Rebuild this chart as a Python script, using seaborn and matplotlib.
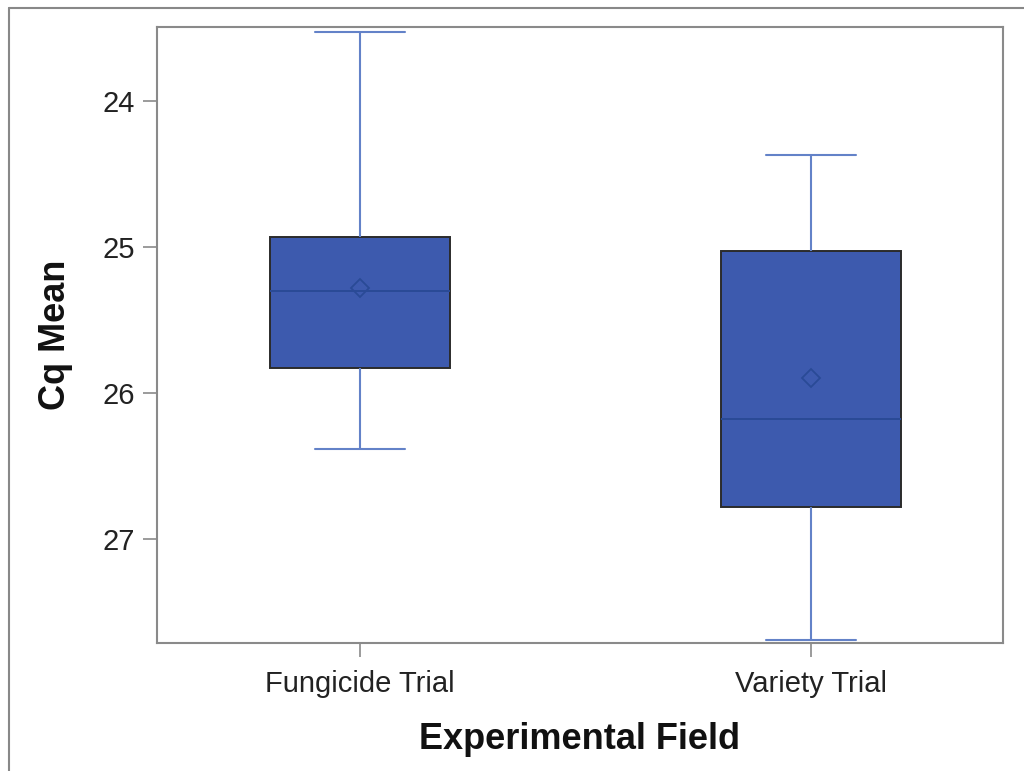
import matplotlib
matplotlib.use("Agg")
import matplotlib.pyplot as plt
from matplotlib.lines import Line2D
import seaborn as sns
import pandas as pd

# Five-number summaries (inverted y axis)
fields = ["Fungicide Trial", "Variety Trial"]
whisker_low = [23.53, 24.37]    # top whisker end (smallest value)
q1 = [24.93, 25.03]
median = [25.30, 26.18]
q3 = [25.83, 26.78]
whisker_high = [26.38, 27.69]   # bottom whisker end (largest value)
means = [25.28, 25.90]

yticks = [24, 25, 26, 27]

rows = []
for i, f in enumerate(fields):
    for v in (whisker_low[i], q1[i], median[i], q3[i], whisker_high[i]):
        rows.append({"Experimental Field": f, "Cq Mean": v})
df = pd.DataFrame(rows)

sns.set_theme(style="white")
plt.rcParams["font.family"] = ["Liberation Sans", "DejaVu Sans"]

fig = plt.figure(figsize=(10.24, 7.71), dpi=100)
ax = fig.add_axes([157/1024, 1-643/771, (1003-157)/1024, (643-27)/771])

box_color = "#3D5AAE"
whisk_color = "#6382C8"
sns.boxplot(data=df, x="Experimental Field", y="Cq Mean", order=fields,
            whis=(0, 100), width=0.40, color=box_color, saturation=1,
            showfliers=False, ax=ax,
            boxprops=dict(facecolor=box_color, edgecolor="#2b2b2b", linewidth=1.4),
            whiskerprops=dict(color=whisk_color, linewidth=1.5),
            capprops=dict(color=whisk_color, linewidth=1.5),
            medianprops=dict(color="#2A4A96", linewidth=1.4))

sns.pointplot(x=fields, y=means, order=fields, linestyle="none", marker="D",
              markersize=9, markerfacecolor="none", markeredgewidth=1.3,
              color="#2A4A96", errorbar=None, ax=ax)

ax.set_ylim(27.712, 23.493)
ax.set_xlim(-0.45, 1.426)
ax.set_yticks(yticks)
ax.set_yticklabels([str(t) for t in yticks])

for s in ax.spines.values():
    s.set_color("#8a8a8a")
    s.set_linewidth(1.5)

ax.tick_params(axis="both", which="major", length=10, width=1.2, color="#8a8a8a",
               labelsize=21, labelcolor="#222222", left=True, bottom=True)
ax.tick_params(axis="y", pad=6)
ax.tick_params(axis="x", pad=9.5)
ax.set_xlabel("Experimental Field", fontsize=26, fontweight="bold", color="#111111", labelpad=17)
ax.set_ylabel("Cq Mean", fontsize=26, fontweight="bold", color="#111111", labelpad=21)

fig.add_artist(Line2D([9/1024, 9/1024], [0, 1-8/771], transform=fig.transFigure,
                      color="#888888", linewidth=1.5))
fig.add_artist(Line2D([9/1024, 1], [1-8/771, 1-8/771], transform=fig.transFigure,
                      color="#888888", linewidth=1.5))

fig.savefig("out.png", dpi=100)
